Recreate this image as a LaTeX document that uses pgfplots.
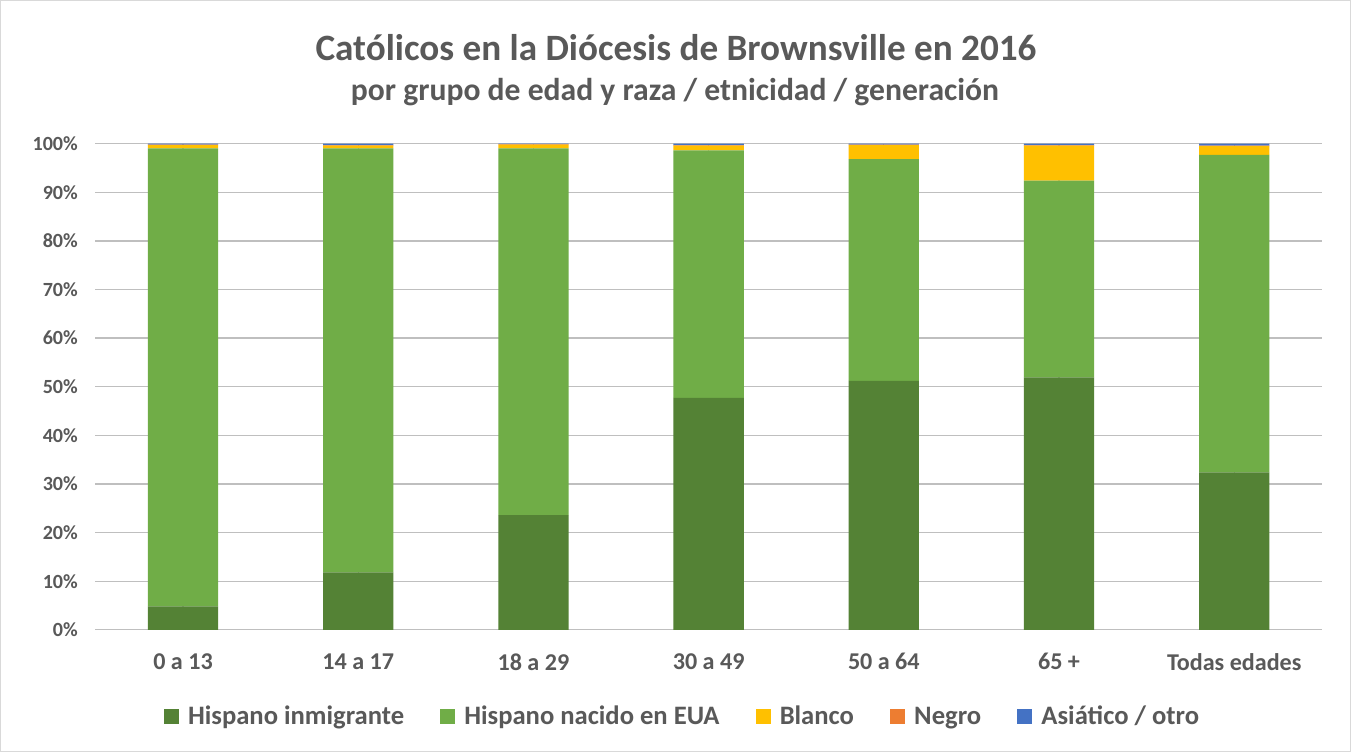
\documentclass[border=0pt]{standalone}
\usepackage{pgfplots}
\pgfplotsset{compat=1.18}
\usepackage{fontspec}
\setmainfont{Carlito}
\definecolor{txt}{HTML}{595959}
\definecolor{cA}{HTML}{548235}
\definecolor{cB}{HTML}{70AD47}
\definecolor{cC}{HTML}{FFC000}
\definecolor{cD}{HTML}{ED7D31}
\definecolor{cE}{HTML}{4472C4}
\definecolor{grid}{HTML}{D9D9D9}
\begin{document}
\begin{tikzpicture}[x=1pt,y=1pt]
\draw[draw=grid,fill=white,line width=1pt] (5.5,0.5) rectangle (1349.5,748.5);
\node[txt,font=\fontsize{37}{44}\selectfont\bfseries] at (678,702) {Católicos en la Diócesis de Brownsville en 2016};
\node[txt,font=\fontsize{31.5}{37}\selectfont\bfseries] at (677,657) {por grupo de edad y raza / etnicidad / generación};
\begin{axis}[
  at={(100pt,122pt)}, anchor=south west,
  scale only axis, width=1221pt, height=484pt,
  ybar stacked, bar width=70pt,
  xmin=-0.5, xmax=6.5, ymin=0, ymax=100,
  xtick={0,...,6},
  xticklabels={0 a 13,14 a 17,18 a 29,30 a 49,50 a 64,65 +,Todas edades},
  ytick={0,10,...,100},
  yticklabels={0\%,10\%,20\%,30\%,40\%,50\%,60\%,70\%,80\%,90\%,100\%},
  ymajorgrids, grid style={grid,line width=1.3pt},
  axis line style={draw=none},
  major tick length=0pt,
  tick label style={txt,font=\fontsize{20}{24}\selectfont\bfseries},
  xticklabel style={font=\fontsize{24}{28}\selectfont\bfseries,yshift=-20pt},
  yticklabel style={xshift=-14pt},
  legend style={at={(0.5,-0.178)},anchor=center,xshift=-26pt,draw=none,fill=none,
    legend columns=5,
    font=\fontsize{26.5}{31}\selectfont\bfseries, text=txt,
    /tikz/every odd column/.append style={column sep=7pt},
    /tikz/every even column/.append style={column sep=34pt}},
  legend image code/.code={\fill[#1] (0pt,-7.5pt) rectangle (15pt,7.5pt);},
]
\addplot[fill=cA,draw=none] coordinates {(0,4.8) (1,11.8) (2,23.6) (3,47.7) (4,51.2) (5,51.9) (6,32.4)};
\addplot[fill=cB,draw=none] coordinates {(0,94.2) (1,87.2) (2,75.4) (3,50.9) (4,45.6) (5,40.5) (6,65.3)};
\addplot[fill=cC,draw=none] coordinates {(0,0.7) (1,0.6) (2,0.8) (3,1.0) (4,2.9) (5,7.2) (6,1.8)};
\addplot[fill=cD,draw=none] coordinates {(0,0.1) (1,0.1) (2,0.1) (3,0.1) (4,0.1) (5,0.1) (6,0.1)};
\addplot[fill=cE,draw=none] coordinates {(0,0.2) (1,0.3) (2,0.1) (3,0.3) (4,0.2) (5,0.3) (6,0.4)};
\legend{Hispano inmigrante,Hispano nacido en EUA,Blanco,Negro,Asiático / otro}
\end{axis}
\end{tikzpicture}
\end{document}
